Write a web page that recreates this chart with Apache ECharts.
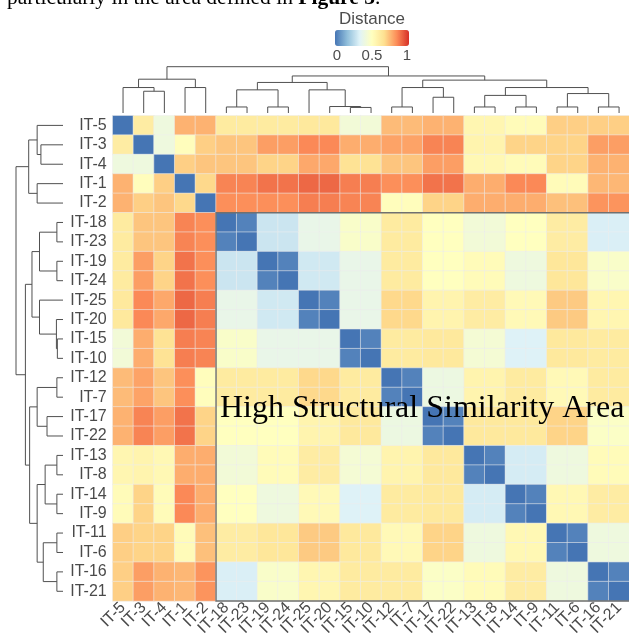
<!DOCTYPE html>
<html><head><meta charset="utf-8">
<script src="https://cdn.jsdelivr.net/npm/echarts@6/dist/echarts.min.js"></script>
<style>html,body{margin:0;padding:0;background:#fff;}#c{width:629px;height:638px;}</style>
</head><body><div id="c"></div>
<script>
// ---------- DATA ----------
const labels = ['IT-5','IT-3','IT-4','IT-1','IT-2','IT-18','IT-23','IT-19','IT-24','IT-25','IT-20','IT-15','IT-10',
  'IT-12','IT-7','IT-17','IT-22','IT-13','IT-8','IT-14','IT-9','IT-11','IT-6','IT-16','IT-21'];

// distance matrix, rows/cols in the order of `labels`
const distance = [
 [0,.60,.41,.76,.76, .61,.61,.61,.61,.62,.62,.43,.43, .74,.74,.76,.76,.55,.55,.52,.52,.70,.70,.70,.70],
 [.60,0,.41,.51,.70, .72,.72,.80,.80,.84,.84,.77,.77, .79,.79,.85,.85,.56,.56,.69,.69,.69,.69,.80,.80],
 [.41,.41,0,.70,.72, .72,.72,.69,.69,.78,.78,.65,.65, .72,.72,.80,.80,.54,.54,.52,.52,.69,.69,.76,.76],
 [.76,.51,.70,0,.68, .85,.85,.88,.88,.90,.90,.86,.86, .83,.83,.88,.88,.77,.77,.84,.84,.52,.52,.75,.75],
 [.76,.70,.72,.68,0, .83,.83,.83,.83,.86,.86,.85,.85, .51,.51,.69,.69,.77,.77,.77,.77,.73,.73,.82,.82],
 [.61,.72,.72,.85,.83, 0,.03,.29,.29,.38,.38,.47,.47, .61,.61,.50,.50,.43,.43,.50,.50,.60,.60,.32,.32],
 [.61,.72,.72,.85,.83, .03,0,.29,.29,.38,.38,.47,.47, .61,.61,.50,.50,.43,.43,.50,.50,.60,.60,.32,.32],
 [.61,.80,.69,.88,.83, .29,.29,0,.03,.30,.30,.38,.38, .61,.61,.50,.50,.52,.52,.41,.41,.63,.63,.47,.47],
 [.61,.80,.69,.88,.83, .29,.29,.03,0,.30,.30,.38,.38, .61,.61,.50,.50,.52,.52,.41,.41,.63,.63,.47,.47],
 [.62,.84,.78,.90,.86, .38,.38,.30,.30,0,.03,.38,.38, .68,.68,.56,.56,.60,.60,.53,.53,.71,.71,.55,.55],
 [.62,.84,.78,.90,.86, .38,.38,.30,.30,.03,0,.38,.38, .68,.68,.56,.56,.60,.60,.53,.53,.71,.71,.55,.55],
 [.43,.77,.65,.86,.85, .47,.47,.38,.38,.38,.38,0,.03, .61,.61,.62,.62,.44,.44,.33,.33,.62,.62,.61,.61],
 [.43,.77,.65,.86,.85, .47,.47,.38,.38,.38,.38,.03,0, .61,.61,.62,.62,.44,.44,.33,.33,.62,.62,.61,.61],
 [.74,.79,.72,.83,.51, .61,.61,.61,.61,.68,.68,.61,.61, 0,.03,.40,.40,.56,.56,.61,.61,.53,.53,.61,.61],
 [.74,.79,.72,.83,.51, .61,.61,.61,.61,.68,.68,.61,.61, .03,0,.40,.40,.56,.56,.61,.61,.53,.53,.61,.61],
 [.76,.85,.80,.88,.69, .50,.50,.50,.50,.56,.56,.62,.62, .40,.40,0,.03,.62,.62,.62,.62,.69,.69,.48,.48],
 [.76,.85,.80,.88,.69, .50,.50,.50,.50,.56,.56,.62,.62, .40,.40,.03,0,.62,.62,.62,.62,.69,.69,.48,.48],
 [.55,.56,.54,.77,.77, .43,.43,.52,.52,.60,.60,.44,.44, .56,.56,.62,.62,0,.03,.31,.31,.41,.41,.52,.52],
 [.55,.56,.54,.77,.77, .43,.43,.52,.52,.60,.60,.44,.44, .56,.56,.62,.62,.03,0,.31,.31,.41,.41,.52,.52],
 [.52,.69,.52,.84,.77, .50,.50,.41,.41,.53,.53,.33,.33, .61,.61,.62,.62,.31,.31,0,.03,.54,.54,.60,.60],
 [.52,.69,.52,.84,.77, .50,.50,.41,.41,.53,.53,.33,.33, .61,.61,.62,.62,.31,.31,.03,0,.54,.54,.60,.60],
 [.70,.69,.69,.52,.73, .60,.60,.63,.63,.71,.71,.62,.62, .53,.53,.69,.69,.41,.41,.54,.54,0,.03,.41,.41],
 [.70,.69,.69,.52,.73, .60,.60,.63,.63,.71,.71,.62,.62, .53,.53,.69,.69,.41,.41,.54,.54,.03,0,.41,.41],
 [.70,.80,.76,.75,.82, .32,.32,.47,.47,.55,.55,.61,.61, .61,.61,.48,.48,.52,.52,.60,.60,.41,.41,0,.03],
 [.70,.80,.76,.75,.82, .32,.32,.47,.47,.55,.55,.61,.61, .61,.61,.48,.48,.52,.52,.60,.60,.41,.41,.03,0]
];

// hierarchical clustering merges: [childA, childB, height]; children < 25 are leaves,
// child 25+k refers to merge k (relative height, root = 1)
const dendroMerges = [
 [1,2,.47],[0,25,.55],[3,4,.55],[26,27,.73],
 [5,6,.13],[7,8,.13],[29,30,.50],[11,12,.12],[10,32,.14],[9,33,.50],[31,34,.66],
 [13,14,.13],[15,16,.34],[36,37,.55],[17,18,.13],[19,20,.13],[39,40,.38],
 [21,22,.13],[23,24,.13],[42,43,.42],[41,44,.55],[38,45,.71],[35,46,.80],[28,47,1.0]
];

const colorbarTicks = { min: 0, max: 1, step: 0.5 };
const legendTitle = 'Distance';
const areaLabel = 'High Structural Similarity Area';
const headerText = ['particularly in the area defined in ', 'Figure 3', '.'];
const palette = ['#4575b4','#91bfdb','#e0f3f8','#ffffbf','#fee090','#fc8d59','#d73027'];

// ---------- BUILD ----------
const heatData = [];
distance.forEach((row, i) => row.forEach((v, j) => heatData.push([j, i, v])));

const pos = labels.map((_, i) => i), hgt = labels.map(() => 0), segs = [];
dendroMerges.forEach(([a, b, h]) => {
  segs.push([pos[a], hgt[a], pos[b], hgt[b], h]);
  pos.push((pos[a] + pos[b]) / 2);
  hgt.push(h);
});

function dendroItem(swap) {
  return function (params, api) {
    const xa = api.value(0), ha = api.value(1), xb = api.value(2), hb = api.value(3), h = api.value(4);
    const pt = (p, hh) => api.coord(swap ? [hh, p] : [p, hh]);
    return { type: 'polyline', silent: true,
      shape: { points: [pt(xa, ha), pt(xa, h), pt(xb, h), pt(xb, hb)] },
      style: { stroke: '#505050', lineWidth: 1, fill: null } };
  };
}

const HM = { left: 112.7, top: 115.7, width: 516.7, height: 485.3 };
const FONT = 'Liberation Sans, Arial, sans-serif';
const hid = { show: false };

const chart = echarts.init(document.getElementById('c'), null, { renderer: 'canvas' });
chart.setOption({
  animation: false,
  backgroundColor: '#fff',
  grid: [
    { left: HM.left, top: HM.top, width: HM.width, height: HM.height, containLabel: false, outerBoundsMode: 'none' },
    { left: HM.left, top: 66.7, width: HM.width, height: 46.3, containLabel: false, outerBoundsMode: 'none' },
    { left: 16, top: HM.top, width: 47, height: HM.height, containLabel: false, outerBoundsMode: 'none' },
    { left: 337, top: 30, width: 70, height: 16, containLabel: false, outerBoundsMode: 'none' }
  ],
  xAxis: [
    { type: 'category', gridIndex: 0, data: labels, position: 'bottom',
      axisLine: hid, axisTick: hid, splitLine: hid,
      axisLabel: { interval: 0, rotate: 45, fontSize: 16, margin: 4, color: '#4a4a4a', fontFamily: FONT } },
    { type: 'value', gridIndex: 1, min: -0.5, max: labels.length - 0.5, show: false },
    { type: 'value', gridIndex: 2, min: 0, max: 1, inverse: true, show: false },
    { type: 'value', gridIndex: 3, min: colorbarTicks.min, max: colorbarTicks.max, interval: colorbarTicks.step,
      axisLine: hid, axisTick: hid, splitLine: hid,
      axisLabel: { fontSize: 15, margin: 2, color: '#4d4d4d', fontFamily: FONT } }
  ],
  yAxis: [
    { type: 'category', gridIndex: 0, data: labels, inverse: true,
      axisLine: hid, axisTick: hid, splitLine: hid,
      axisLabel: { interval: 0, fontSize: 16, margin: 6, color: '#4a4a4a', fontFamily: FONT } },
    { type: 'value', gridIndex: 1, min: 0, max: 1, show: false },
    { type: 'value', gridIndex: 2, min: -0.5, max: labels.length - 0.5, inverse: true, show: false },
    { type: 'value', gridIndex: 3, show: false }
  ],
  visualMap: {
    type: 'continuous', min: colorbarTicks.min, max: colorbarTicks.max, seriesIndex: 0,
    orient: 'horizontal', left: 335, top: 30, itemWidth: 16, itemHeight: 74, padding: 0,
    calculable: false, hoverLink: false, inRange: { color: palette }
  },
  series: [
    { type: 'heatmap', xAxisIndex: 0, yAxisIndex: 0, data: heatData,
      itemStyle: { borderColor: 'rgba(236,236,236,0.55)', borderWidth: 1 },
      emphasis: { disabled: true } },
    { type: 'custom', xAxisIndex: 1, yAxisIndex: 1, data: segs, renderItem: dendroItem(false), silent: true },
    { type: 'custom', xAxisIndex: 2, yAxisIndex: 2, data: segs, renderItem: dendroItem(true), silent: true }
  ]
});

// annotation box around the high-similarity block, placed through the heatmap's axes
const c0 = chart.convertToPixel({ xAxisIndex: 0, yAxisIndex: 0 }, ['IT-18', 'IT-18']);
const c1 = chart.convertToPixel({ xAxisIndex: 0, yAxisIndex: 0 }, ['IT-23', 'IT-23']);
const cN = chart.convertToPixel({ xAxisIndex: 0, yAxisIndex: 0 }, ['IT-21', 'IT-21']);
const cw = c1[0] - c0[0], ch = c1[1] - c0[1];
const bx = c0[0] - cw / 2, by = c0[1] - ch / 2;
const rx = cN[0] + cw / 2, ry = cN[1] + ch / 2;

chart.setOption({
  graphic: [
    { type: 'polyline', silent: true, z: 100,
      shape: { points: [[rx, by], [bx, by], [bx, ry], [rx, ry]] },
      style: { fill: null, stroke: '#707070', lineWidth: 1.4 } },
    { type: 'text', silent: true, z: 101, x: 220, y: 409,
      style: { text: areaLabel, font: '32px "Liberation Serif", "Times New Roman", serif', fill: '#000',
               align: 'left', verticalAlign: 'middle' } },
    { type: 'text', silent: true, x: 372, y: 19,
      style: { text: legendTitle, font: '17px ' + FONT, fill: '#4d4d4d', align: 'center', verticalAlign: 'middle' } },
    { type: 'text', silent: true, x: 7, y: -2,
      style: { text: '{a|' + headerText[0] + '}{b|' + headerText[1] + '}{a|' + headerText[2] + '}',
               align: 'left', verticalAlign: 'middle',
               rich: { a: { font: '21.5px "Liberation Serif", serif', fill: '#000' },
                       b: { font: 'bold 21.5px "Liberation Serif", serif', fill: '#000' } } } }
  ]
});
</script></body></html>
